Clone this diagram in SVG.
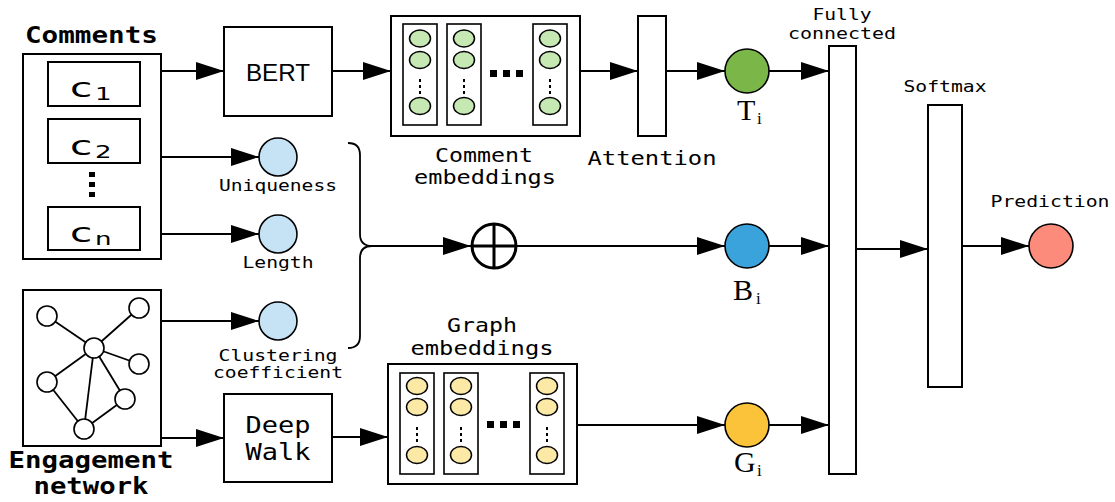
<svg xmlns="http://www.w3.org/2000/svg" width="1115" height="502" viewBox="0 0 1115 502">
  <defs>
    <marker id="arr" markerUnits="userSpaceOnUse" markerWidth="28" markerHeight="18" refX="28" refY="9" orient="auto">
      <path d="M0,0 L28,9 L0,18 z" fill="#000"/>
    </marker>
    <style>
      .box { fill: #fff; stroke: #000; stroke-width: 2; }
      .col { fill: #fff; stroke: #000; stroke-width: 1.6; }
      .edge { fill: none; stroke: #000; stroke-width: 1.8; }
      .arrow { fill: none; stroke: #000; stroke-width: 1.8; marker-end: url(#arr); }
      .mono { font-family: "DejaVu Sans Mono", "Liberation Mono", monospace; fill: #000; }
      .small { font-size: 16px; }
      .mid { font-size: 19px; }
      .bold { font-size: 23px; font-weight: bold; }
      .sans { font-family: "DejaVu Sans", "Liberation Sans", sans-serif; fill: #000; }
      .bert { font-family: "Liberation Sans", Arial, sans-serif; fill: #000; }
      .serif { font-family: "Liberation Serif", "Times New Roman", serif; fill: #000; }
      .node { stroke: #000; stroke-width: 1.6; }
      .gnode { fill: #fff; stroke: #000; stroke-width: 1.6; }
      .feat { fill: #c6e3f6; stroke: #000; stroke-width: 1.6; }
      .emb-g { fill: #c6e8b2; stroke: #000; stroke-width: 1.5; }
      .emb-y { fill: #fde9a6; stroke: #000; stroke-width: 1.5; }
    </style>
  </defs>

  <!-- connectors -->
  <g id="connectors">
    <line class="arrow" x1="161" y1="71" x2="224" y2="71"/>
    <line class="arrow" x1="332" y1="71" x2="391" y2="71"/>
    <line class="arrow" x1="580" y1="71" x2="638" y2="71"/>
    <line class="arrow" x1="666" y1="71" x2="725" y2="71"/>
    <line class="arrow" x1="161" y1="157" x2="259" y2="157"/>
    <line class="arrow" x1="161" y1="234" x2="259" y2="234"/>
    <line class="arrow" x1="161" y1="321" x2="259" y2="321"/>
    <line class="arrow" x1="161" y1="438" x2="224" y2="438"/>
    <line class="arrow" x1="332" y1="437" x2="388" y2="437"/>
    <line class="arrow" x1="577" y1="425" x2="725" y2="425"/>
    <!-- brace collecting the hand-crafted features -->
    <path class="edge" d="M348,143 Q360,143 360,155 L360,234 Q360,246 372,246 Q360,246 360,258 L360,336 Q360,348 348,348"/>
    <line class="arrow" x1="372" y1="246" x2="471" y2="246"/>
    <line class="arrow" x1="517" y1="246" x2="725" y2="246"/>
    <line class="arrow" x1="769" y1="71" x2="829" y2="71"/>
    <line class="arrow" x1="769" y1="246" x2="829" y2="246"/>
    <line class="arrow" x1="769" y1="425" x2="829" y2="425"/>
    <line class="arrow" x1="856" y1="249" x2="928" y2="249"/>
    <line class="arrow" x1="962" y1="246" x2="1029" y2="246"/>
  </g>

  <!-- comments -->
  <g id="comments">
    <text class="mono bold" x="91.5" y="43" text-anchor="middle" textLength="133" lengthAdjust="spacingAndGlyphs">Comments</text>
    <rect class="box" x="23" y="54" width="138" height="205"/>
    <rect class="box" x="48" y="62" width="92" height="44"/>
    <rect class="box" x="48" y="119" width="92" height="44"/>
    <rect class="box" x="48" y="207" width="92" height="43"/>
    <text class="sans" font-size="27" transform="translate(70,97) scale(1.5,1)">c</text>
    <text class="sans" font-size="18" transform="translate(95,100) scale(1.45,1)">1</text>
    <text class="sans" font-size="27" transform="translate(70,155) scale(1.5,1)">c</text>
    <text class="sans" font-size="18" transform="translate(95,158) scale(1.45,1)">2</text>
    <text class="sans" font-size="27" transform="translate(70,242) scale(1.5,1)">c</text>
    <text class="sans" font-size="18" transform="translate(95,245) scale(1.45,1)">n</text>
    <rect x="89" y="172" width="6" height="5" fill="#000"/>
    <rect x="89" y="182" width="6" height="5" fill="#000"/>
    <rect x="89" y="192" width="6" height="5" fill="#000"/>
  </g>

  <!-- engagement network -->
  <g id="engagement">
    <rect class="box" x="23" y="290" width="138" height="156"/>
    <g class="edge">
      <line x1="47" y1="316" x2="94" y2="348"/>
      <line x1="139" y1="308" x2="94" y2="348"/>
      <line x1="139" y1="364" x2="94" y2="348"/>
      <line x1="47" y1="382" x2="94" y2="348"/>
      <line x1="125" y1="399" x2="94" y2="348"/>
      <line x1="84" y1="429" x2="94" y2="348"/>
      <line x1="47" y1="382" x2="84" y2="429"/>
      <line x1="125" y1="399" x2="84" y2="429"/>
    </g>
    <circle class="gnode" cx="47" cy="316" r="10"/>
    <circle class="gnode" cx="139" cy="308" r="10"/>
    <circle class="gnode" cx="94" cy="348" r="10"/>
    <circle class="gnode" cx="139" cy="364" r="10"/>
    <circle class="gnode" cx="47" cy="382" r="10"/>
    <circle class="gnode" cx="125" cy="399" r="10"/>
    <circle class="gnode" cx="84" cy="429" r="10"/>
    <text class="mono bold" x="91" y="468" text-anchor="middle" textLength="165" lengthAdjust="spacingAndGlyphs">Engagement</text>
    <text class="mono bold" x="91" y="494" text-anchor="middle" textLength="115" lengthAdjust="spacingAndGlyphs">network</text>
  </g>

  <!-- BERT -->
  <g id="bert">
    <rect class="box" x="224" y="27" width="108" height="89"/>
    <text class="bert" font-size="24" x="278" y="81" text-anchor="middle" textLength="64" lengthAdjust="spacingAndGlyphs">BERT</text>
  </g>

  <!-- DeepWalk -->
  <g id="deepwalk">
    <rect class="box" x="224" y="394" width="108" height="88"/>
    <text class="mono" font-size="23" x="278" y="433" text-anchor="middle" textLength="65" lengthAdjust="spacingAndGlyphs">Deep</text>
    <text class="mono" font-size="23" x="278" y="460" text-anchor="middle" textLength="65" lengthAdjust="spacingAndGlyphs">Walk</text>
  </g>

  <!-- hand-crafted features -->
  <g id="uniqueness">
    <circle class="feat" cx="278" cy="157" r="19"/>
    <text class="mono small" x="278" y="191" text-anchor="middle" textLength="118" lengthAdjust="spacingAndGlyphs">Uniqueness</text>
  </g>
  <g id="length">
    <circle class="feat" cx="278" cy="234" r="19"/>
    <text class="mono small" x="278" y="268" text-anchor="middle" textLength="71" lengthAdjust="spacingAndGlyphs">Length</text>
  </g>
  <g id="clustering">
    <circle class="feat" cx="278" cy="321" r="19"/>
    <text class="mono small" x="278" y="361" text-anchor="middle" textLength="119" lengthAdjust="spacingAndGlyphs">Clustering</text>
    <text class="mono small" x="278" y="378" text-anchor="middle" textLength="130" lengthAdjust="spacingAndGlyphs">coefficient</text>
  </g>

  <!-- comment embeddings -->
  <g id="comment-embeddings">
    <rect class="box" x="391" y="16" width="189" height="120"/>
    <rect class="col" x="403" y="24" width="34" height="101"/>
    <rect class="col" x="447" y="24" width="34" height="101"/>
    <rect class="col" x="533" y="24" width="34" height="101"/>
    <g class="emb-g">
      <ellipse cx="420" cy="38.5" rx="10.5" ry="8.5"/>
      <ellipse cx="420" cy="60" rx="10.5" ry="8.5"/>
      <ellipse cx="420" cy="106" rx="10.5" ry="8.5"/>
      <ellipse cx="464" cy="38.5" rx="10.5" ry="8.5"/>
      <ellipse cx="464" cy="60" rx="10.5" ry="8.5"/>
      <ellipse cx="464" cy="106" rx="10.5" ry="8.5"/>
      <ellipse cx="550" cy="38.5" rx="10.5" ry="8.5"/>
      <ellipse cx="550" cy="60" rx="10.5" ry="8.5"/>
      <ellipse cx="550" cy="106" rx="10.5" ry="8.5"/>
    </g>
    <g fill="#000">
      <rect x="419" y="79" width="2" height="3"/><rect x="419" y="85" width="2" height="3"/><rect x="419" y="91" width="2" height="3"/>
      <rect x="463" y="79" width="2" height="3"/><rect x="463" y="85" width="2" height="3"/><rect x="463" y="91" width="2" height="3"/>
      <rect x="549" y="79" width="2" height="3"/><rect x="549" y="85" width="2" height="3"/><rect x="549" y="91" width="2" height="3"/>
      <rect x="490" y="70" width="7" height="7"/><rect x="503" y="70" width="7" height="7"/><rect x="516" y="70" width="7" height="7"/>
    </g>
    <text class="mono mid" x="484" y="162" text-anchor="middle" textLength="98" lengthAdjust="spacingAndGlyphs">Comment</text>
    <text class="mono mid" x="485" y="184" text-anchor="middle" textLength="142" lengthAdjust="spacingAndGlyphs">embeddings</text>
  </g>

  <!-- attention -->
  <g id="attention">
    <rect class="box" x="638" y="16" width="28" height="120"/>
    <text class="mono mid" x="652" y="165" text-anchor="middle" textLength="129" lengthAdjust="spacingAndGlyphs">Attention</text>
  </g>

  <!-- graph embeddings -->
  <g id="graph-embeddings">
    <text class="mono mid" x="482" y="332" text-anchor="middle" textLength="70" lengthAdjust="spacingAndGlyphs">Graph</text>
    <text class="mono mid" x="482" y="355" text-anchor="middle" textLength="143" lengthAdjust="spacingAndGlyphs">embeddings</text>
    <rect class="box" x="388" y="364" width="189" height="120"/>
    <rect class="col" x="400" y="373" width="34" height="101"/>
    <rect class="col" x="444" y="373" width="34" height="101"/>
    <rect class="col" x="530" y="373" width="34" height="101"/>
    <g class="emb-y">
      <ellipse cx="417" cy="386" rx="10.5" ry="8.5"/>
      <ellipse cx="417" cy="407" rx="10.5" ry="8.5"/>
      <ellipse cx="417" cy="455" rx="10.5" ry="8.5"/>
      <ellipse cx="461" cy="386" rx="10.5" ry="8.5"/>
      <ellipse cx="461" cy="407" rx="10.5" ry="8.5"/>
      <ellipse cx="461" cy="455" rx="10.5" ry="8.5"/>
      <ellipse cx="547" cy="386" rx="10.5" ry="8.5"/>
      <ellipse cx="547" cy="407" rx="10.5" ry="8.5"/>
      <ellipse cx="547" cy="455" rx="10.5" ry="8.5"/>
    </g>
    <g fill="#000">
      <rect x="416" y="427" width="2" height="3"/><rect x="416" y="433" width="2" height="3"/><rect x="416" y="439" width="2" height="3"/>
      <rect x="460" y="427" width="2" height="3"/><rect x="460" y="433" width="2" height="3"/><rect x="460" y="439" width="2" height="3"/>
      <rect x="546" y="427" width="2" height="3"/><rect x="546" y="433" width="2" height="3"/><rect x="546" y="439" width="2" height="3"/>
      <rect x="487" y="421" width="7" height="7"/><rect x="500" y="421" width="7" height="7"/><rect x="513" y="421" width="7" height="7"/>
    </g>
  </g>

  <!-- concatenation -->
  <g id="concat">
    <circle cx="494" cy="246" r="22" fill="#fff" stroke="#000" stroke-width="3"/>
    <line x1="472" y1="246" x2="516" y2="246" stroke="#000" stroke-width="3"/>
    <line x1="494" y1="224" x2="494" y2="268" stroke="#000" stroke-width="3"/>
  </g>

  <!-- representation nodes -->
  <g id="t-i">
    <circle class="node" cx="747" cy="71" r="22" fill="#7ab648"/>
    <text class="serif" font-size="30" x="737" y="120">T</text>
    <text class="serif" font-size="17" x="757" y="124">i</text>
  </g>
  <g id="b-i">
    <circle class="node" cx="747" cy="246" r="22" fill="#3ba3dc"/>
    <text class="serif" font-size="30" x="733" y="300">B</text>
    <text class="serif" font-size="17" x="756" y="304">i</text>
  </g>
  <g id="g-i">
    <circle class="node" cx="747" cy="425" r="22" fill="#fbc33a"/>
    <text class="serif" font-size="30" x="734" y="472">G</text>
    <text class="serif" font-size="17" x="757" y="476">i</text>
  </g>

  <!-- classifier -->
  <g id="fully-connected">
    <text class="mono small" x="842" y="20" text-anchor="middle" textLength="59" lengthAdjust="spacingAndGlyphs">Fully</text>
    <text class="mono small" x="842" y="39" text-anchor="middle" textLength="108" lengthAdjust="spacingAndGlyphs">connected</text>
    <rect class="box" x="829" y="46" width="27" height="428"/>
  </g>
  <g id="softmax">
    <text class="mono small" x="945" y="92" text-anchor="middle" textLength="83" lengthAdjust="spacingAndGlyphs">Softmax</text>
    <rect class="box" x="928" y="105" width="34" height="282"/>
  </g>
  <g id="prediction">
    <text class="mono small" x="1050" y="207" text-anchor="middle" textLength="119" lengthAdjust="spacingAndGlyphs">Prediction</text>
    <circle class="node" cx="1051" cy="246" r="22" fill="#fd8b7b"/>
  </g>
</svg>
